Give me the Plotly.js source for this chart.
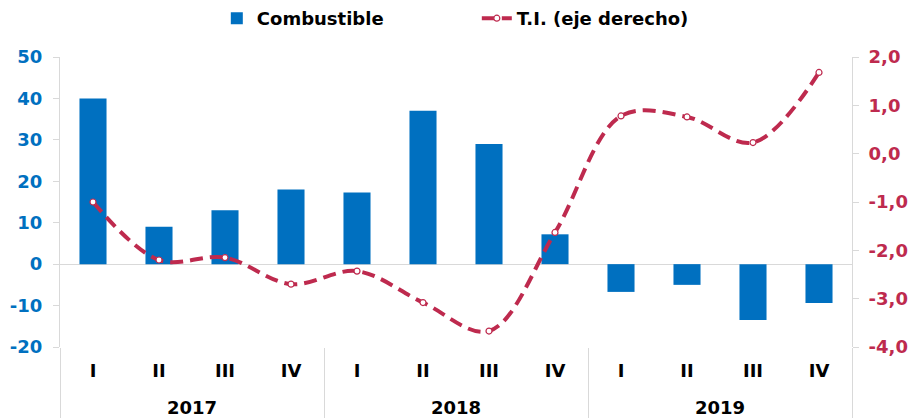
<!DOCTYPE html>
<html>
<head>
<meta charset="utf-8">
<script src="https://cdn.plot.ly/plotly-3.0.1.min.js"></script>
<style>
  html, body { margin: 0; padding: 0; background: #ffffff; }
  #chart { width: 912px; height: 418px; }
</style>
</head>
<body>
<div id="chart"></div>
<script>
const years = ['2017','2017','2017','2017','2018','2018','2018','2018','2019','2019','2019','2019'];
const quarters = ['I','II','III','IV','I','II','III','IV','I','II','III','IV'];
const combustible = [40, 9, 13, 18, 17.3, 37, 29, 7.2, -6.7, -5, -13.5, -9.4];
const ti = [-1.0, -2.2, -2.15, -2.7, -2.43, -3.08, -3.67, -1.63, 0.78, 0.76, 0.23, 1.68];
const leftTickVals = [-20, -10, 0, 10, 20, 30, 40, 50];
const leftTickText = ['-20', '-10', '0', '10', '20', '30', '40', '50'];
const rightTickVals = [-4, -3, -2, -1, 0, 1, 2];
const rightTickText = ['-4,0', '-3,0', '-2,0', '-1,0', '0,0', '1,0', '2,0'];

// category positions derived from the arrays
const idx = quarters.map((_, i) => i);
const yearNames = [];
const yearCenters = [];
const bounds = [-0.5];
years.forEach(y => { if (!yearNames.includes(y)) yearNames.push(y); });
yearNames.forEach(y => {
  const ii = idx.filter(i => years[i] === y);
  yearCenters.push((ii[0] + ii[ii.length - 1]) / 2);
  bounds.push(ii[ii.length - 1] + 0.5);
});
const xRange = [-0.5, quarters.length - 0.5];

const FONT = '"DejaVu Sans", Verdana, sans-serif';
const BLUE = '#0070C0';
const RED = '#BE2A4E';
const GRID = '#d9d9d9';

const traces = [
  {
    type: 'bar',
    name: 'Combustible',
    x: idx,
    y: combustible,
    marker: { color: BLUE },
    xaxis: 'x',
    yaxis: 'y'
  },
  {
    type: 'scatter',
    mode: 'lines+markers',
    name: 'T.I. (eje derecho)',
    x: idx,
    y: ti,
    xaxis: 'x',
    yaxis: 'y2',
    line: { color: RED, width: 4, dash: '13px,7px', shape: 'spline', smoothing: 1 },
    marker: { symbol: 'circle', size: 6, color: '#ffffff', line: { color: RED, width: 1.2 } }
  },
  // empty helper traces so the year-label and divider axes get drawn
  { type: 'scatter', x: [], y: [], xaxis: 'x2', yaxis: 'y', showlegend: false, hoverinfo: 'skip' },
  { type: 'scatter', x: [], y: [], xaxis: 'x3', yaxis: 'y', showlegend: false, hoverinfo: 'skip' }
];

const layout = {
  width: 912,
  height: 418,
  margin: { l: 60, r: 60, t: 57, b: 71 },
  paper_bgcolor: '#ffffff',
  plot_bgcolor: '#ffffff',
  font: { family: FONT, size: 18, color: '#000000' },
  showlegend: true,
  bargap: 0.59,
  legend: {
    orientation: 'h',
    x: 0.198, xanchor: 'left',
    y: 1.0, yref: 'container', yanchor: 'top',
    font: { family: FONT, size: 18, color: '#000000', weight: 'bold' },
    entrywidth: 215,
    traceorder: 'normal'
  },
  xaxis: {
    range: xRange,
    tickmode: 'array',
    tickvals: idx,
    ticktext: quarters,
    showgrid: false,
    showline: false,
    zeroline: false,
    ticks: 'outside',
    ticklen: 7,
    tickcolor: 'rgba(0,0,0,0)',
    tickfont: { family: FONT, size: 18, color: '#000000', weight: 'bold' }
  },
  xaxis2: {
    overlaying: 'x',
    anchor: 'y',
    side: 'bottom',
    range: xRange,
    tickmode: 'array',
    tickvals: yearCenters,
    ticktext: yearNames,
    showgrid: false,
    showline: false,
    zeroline: false,
    ticks: 'outside',
    ticklen: 44,
    tickcolor: 'rgba(0,0,0,0)',
    tickfont: { family: FONT, size: 18, color: '#000000', weight: 'bold' }
  },
  xaxis3: {
    overlaying: 'x',
    anchor: 'y',
    side: 'bottom',
    range: xRange,
    tickmode: 'array',
    tickvals: bounds,
    showticklabels: false,
    showgrid: false,
    showline: false,
    zeroline: false,
    ticks: 'outside',
    ticklen: 72,
    tickwidth: 1,
    tickcolor: GRID
  },
  yaxis: {
    range: [-20, 50],
    tickmode: 'array',
    tickvals: leftTickVals,
    ticktext: leftTickText,
    showgrid: false,
    zeroline: true,
    zerolinecolor: GRID,
    zerolinewidth: 1,
    showline: true,
    linecolor: GRID,
    linewidth: 1,
    ticks: 'outside',
    ticklen: 6,
    tickcolor: GRID,
    ticklabelstandoff: 7,
    tickfont: { family: FONT, size: 18, color: BLUE, weight: 'bold' }
  },
  yaxis2: {
    overlaying: 'y',
    side: 'right',
    range: [-4, 2],
    tickmode: 'array',
    tickvals: rightTickVals,
    ticktext: rightTickText,
    showgrid: false,
    zeroline: false,
    showline: true,
    linecolor: GRID,
    linewidth: 1,
    ticks: 'outside',
    ticklen: 6,
    tickcolor: GRID,
    ticklabelstandoff: 6,
    tickfont: { family: FONT, size: 18, color: RED, weight: 'bold' }
  }
};

Plotly.newPlot('chart', traces, layout, { displayModeBar: false, staticPlot: true });
</script>
</body>
</html>
